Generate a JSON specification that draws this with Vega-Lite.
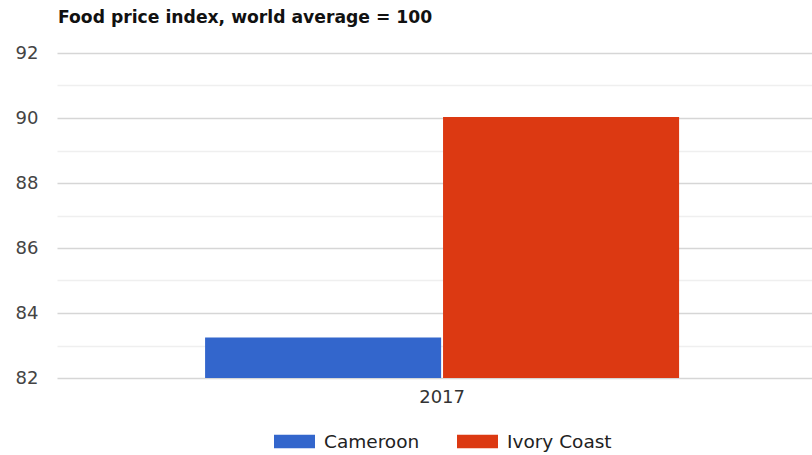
{
  "$schema": "https://vega.github.io/schema/vega-lite/v6.json",
  "width": 755,
  "height": 325,
  "autosize": {"type": "none"},
  "padding": {"left": 57, "top": 53, "right": 0, "bottom": 77},
  "background": "white",
  "title": {
    "text": "Food price index, world average = 100",
    "anchor": "start",
    "frame": "group",
    "font": "DejaVu Sans",
    "fontSize": 17.2,
    "fontWeight": "bold",
    "color": "#111111",
    "offset": 18,
    "dx": 1
  },
  "data": {
    "values": [
      {"year": "2017", "country": "Cameroon", "value": 83.25},
      {"year": "2017", "country": "Ivory Coast", "value": 90.03}
    ]
  },
  "mark": {"type": "bar", "clip": true},
  "encoding": {
    "x": {
      "field": "year",
      "type": "nominal",
      "scale": {"paddingInner": 0, "paddingOuter": 0.2964, "align": 0.527},
      "axis": {
        "title": null,
        "labelAngle": 0,
        "domain": false,
        "ticks": false,
        "labelFont": "DejaVu Sans",
        "labelFontSize": 18,
        "labelColor": "#333333",
        "labelPadding": 10
      }
    },
    "xOffset": {
      "field": "country",
      "type": "nominal",
      "scale": {"paddingInner": 0.008, "paddingOuter": 0}
    },
    "y": {
      "field": "value",
      "type": "quantitative",
      "scale": {"domain": [82, 92], "zero": false, "nice": false},
      "axis": {
        "title": null,
        "values": [82, 83, 84, 85, 86, 87, 88, 89, 90, 91, 92],
        "labelExpr": "datum.value % 2 === 0 ? datum.label : ''",
        "domain": false,
        "ticks": false,
        "grid": true,
        "gridColor": {"condition": {"test": "datum.value % 2 === 1", "value": "#efefef"}, "value": "#d6d6d6"},
        "gridWidth": 1.5,
        "labelFont": "DejaVu Sans",
        "labelFontSize": 18,
        "labelColor": "#444444",
        "labelPadding": 19
      }
    },
    "color": {
      "field": "country",
      "type": "nominal",
      "scale": {"domain": ["Cameroon", "Ivory Coast"], "range": ["#3366cc", "#dc3912"]},
      "legend": {
        "title": null,
        "orient": "none",
        "direction": "horizontal",
        "legendX": 217,
        "legendY": 368,
        "symbolType": "M-1,-0.33H1V0.33H-1Z",
        "symbolSize": 1681,
        "symbolStrokeWidth": 0,
        "symbolOpacity": 1,
        "labelFont": "DejaVu Sans",
        "labelFontSize": 18.5,
        "labelColor": "#222222",
        "labelOffset": 9,
        "columnPadding": 37
      }
    }
  },
  "config": {
    "view": {"stroke": null}
  }
}
